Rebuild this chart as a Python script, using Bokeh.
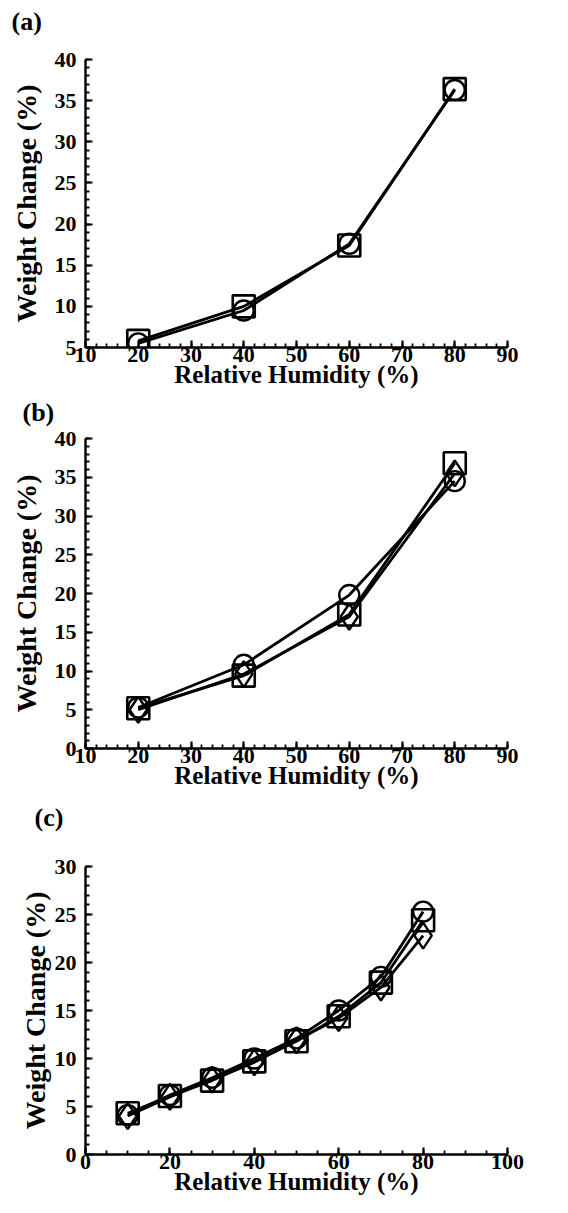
from bokeh.plotting import figure
from bokeh.layouts import column
from bokeh.models import Range1d, SingleIntervalTicker, Title
from bokeh.embed import file_html
from bokeh.resources import INLINE

# ---------------- data ----------------
a_x = [20, 40, 60, 80]
a_circle = [5.5, 9.5, 17.6, 36.3]
a_square = [5.8, 10.0, 17.4, 36.4]

b_x = [20, 40, 60, 80]
b_circle = [5.3, 10.8, 19.8, 34.5]
b_square = [5.2, 9.4, 17.3, 36.8]
b_diamond = [5.0, 9.6, 17.0, 35.5]

c_x = [10, 20, 30, 40, 50, 60, 70, 80]
c_circle = [4.1, 6.2, 8.0, 10.0, 12.1, 15.0, 18.5, 25.3]
c_square = [4.3, 6.1, 7.7, 9.7, 11.8, 14.4, 17.9, 24.4]
c_diamond = [4.0, 6.0, 7.8, 9.6, 11.9, 14.2, 17.4, 22.8]

x_label = "Relative Humidity (%)"
y_label = "Weight Change (%)"

FONT = "Liberation Serif"
W = 552


def add_tag(p, text, offset, stand, pad, fallback_stand):
    t = Title(text=text, align="left", offset=offset, standoff=stand,
              text_font=FONT, text_font_size="26px", text_font_style="bold",
              text_color="black")
    try:
        t.padding = dict(left=0, right=0, top=0, bottom=pad)
    except Exception:
        t.standoff = fallback_stand
    p.add_layout(t, "above")


def make_panel(tag, height, bl, br, bt, bb, xr, yr, xint, xminor, yint, yminor,
               series, ylab_standoff=10):
    p = figure(width=W, height=height, output_backend="svg", toolbar_location=None,
               x_range=Range1d(*xr), y_range=Range1d(*yr),
               min_border_left=bl, min_border_right=br, min_border_top=bt, min_border_bottom=bb)
    p.outline_line_color = None
    p.grid.visible = False
    p.background_fill_color = "white"
    p.border_fill_color = "white"
    p.xaxis.ticker = SingleIntervalTicker(interval=xint, num_minor_ticks=xminor)
    p.yaxis.ticker = SingleIntervalTicker(interval=yint, num_minor_ticks=yminor)
    for ax in (p.xaxis, p.yaxis):
        ax.axis_line_width = 2.4
        ax.axis_line_color = "black"
        ax.major_tick_line_width = 2.2
        ax.minor_tick_line_width = 1.8
        ax.major_tick_line_color = "black"
        ax.minor_tick_line_color = "black"
        ax.major_tick_in = 7
        ax.major_tick_out = 0
        ax.minor_tick_in = 4
        ax.minor_tick_out = 0
        ax.major_label_text_font = FONT
        ax.major_label_text_font_size = "22px"
        ax.major_label_text_font_style = "bold"
        ax.major_label_text_color = "black"
        ax.axis_label_text_font = FONT
        ax.axis_label_text_font_style = "bold"
        ax.axis_label_text_color = "black"
    p.xaxis.axis_label = x_label
    p.yaxis.axis_label = y_label
    p.xaxis.axis_label_text_font_size = "25px"
    p.yaxis.axis_label_text_font_size = "28px"
    p.xaxis.major_label_standoff = 0
    p.xaxis.axis_label_standoff = -4
    p.yaxis.major_label_standoff = 9
    p.yaxis.axis_label_standoff = ylab_standoff

    xs = series["x"]
    for kind, ys in series["y"]:
        p.line(xs, ys, line_color="black", line_width=2.8)
    for kind, ys in series["y"]:
        if kind == "square":
            p.scatter(xs, ys, marker="square", size=22, fill_color=None,
                      line_color="black", line_width=2.6)
        elif kind == "circle":
            p.scatter(xs, ys, marker="circle", size=20, fill_color=None,
                      line_color="black", line_width=2.4)
        else:
            p.scatter(xs, ys, marker="diamond", size=26, fill_color=None,
                      line_color="black", line_width=2.4)
    add_tag(p, *tag)
    return p


pa = make_panel(("(a)", -74, 6, 21, 27), 391, 77, 42, 59, 44, (10, 90), (5, 40), 10, 5, 5, 5,
                {"x": a_x, "y": [("square", a_square), ("circle", a_circle)]})
pb = make_panel(("(b)", -63, 4, 10, 15), 403, 77, 42, 47, 46, (10, 90), (0, 40), 10, 5, 5, 5,
                {"x": b_x, "y": [("square", b_square), ("circle", b_circle), ("diamond", b_diamond)]})
pc = make_panel(("(c)", -51, 6, 32, 40), 403, 85, 45, 72, 42, (0, 100), (0, 30), 20, 4, 5, 5,
                {"x": c_x, "y": [("square", c_square), ("circle", c_circle), ("diamond", c_diamond)]},
                ylab_standoff=1)

layout = column(pa, pb, pc, spacing=0)
open("out.html", "w").write(file_html(layout, INLINE))
